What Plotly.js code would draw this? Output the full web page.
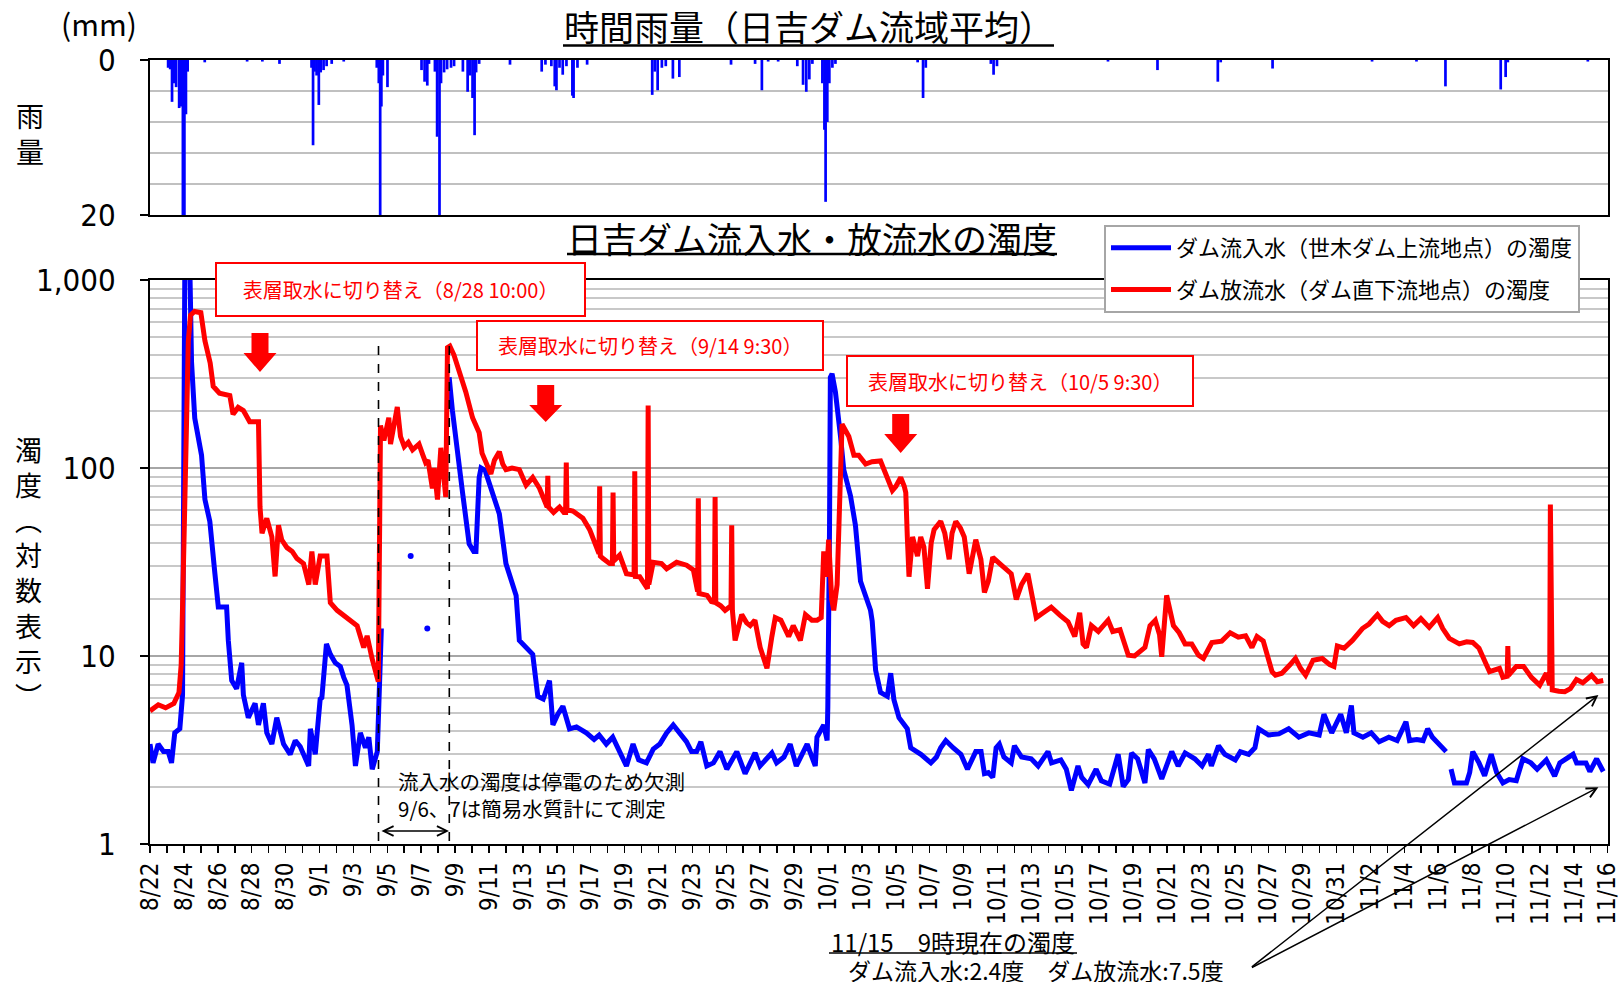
<!DOCTYPE html>
<html><head><meta charset="utf-8">
<script src="https://cdn.plot.ly/plotly-3.0.1.min.js"></script>
<style>html,body{margin:0;padding:0;background:#fff;}#chart{width:1621px;height:982px;}</style>
</head><body><div id="chart"></div>
<script>
// ---- data (days since 8/22 00:00) ----
const startYear = 2018, startMonth = 8, startDay = 22;
const endDays = 86.02;

// inflow turbidity (blue), degrees
const inflowDays = [0.00,0.18,0.48,0.80,1.07,1.27,1.46,1.76,1.92,1.99,2.06,2.33,2.45,2.64,3.04,3.24,3.53,3.83,4.03,4.52,4.62,4.82,5.11,5.41,5.51,5.80,6.20,6.40,6.69,6.89,7.19,7.48,7.88,8.27,8.57,8.86,9.36,9.46,9.75,10.04,10.14,10.41,10.64,10.93,11.23,11.43,11.62,11.92,12.12,12.41,12.71,12.91,13.11,13.41,13.60,13.65,15.00,
17.65,17.84,18.44,18.83,19.10,19.23,19.42,19.53,19.77,20.14,20.61,21.00,21.30,21.60,21.79,22.22,22.58,22.88,23.20,23.57,23.77,24.06,24.36,24.75,25.16,25.74,26.20,26.50,26.92,27.30,27.73,28.11,28.50,28.83,29.29,29.69,30.08,30.48,30.87,31.22,31.65,31.95,32.25,32.50,32.85,33.24,33.63,34.03,34.62,35.11,35.70,35.99,36.69,36.97,37.40,37.77,38.13,38.77,39.25,39.35,39.75,39.95,39.99,
40.09,40.14,40.24,40.44,40.74,40.93,41.33,41.62,41.92,42.32,42.51,42.61,42.71,42.81,43.10,43.50,43.70,43.89,44.19,44.68,44.88,45.48,46.07,46.40,46.65,46.95,47.38,47.84,48.23,48.72,49.03,49.23,49.46,49.72,49.92,50.11,50.38,50.81,51.00,51.42,51.99,52.40,52.98,53.19,53.74,54.06,54.36,54.75,54.97,55.35,55.82,56.13,56.62,56.93,57.12,57.42,57.72,57.91,58.27,58.70,58.90,59.25,59.69,
60.28,60.66,61.07,61.64,62.07,62.45,62.62,63.04,63.41,64.03,64.33,64.82,65.19,65.41,65.99,66.60,67.18,67.78,68.37,68.98,69.26,69.72,70.25,70.58,70.88,71.03,71.56,72.05,72.52,73.09,73.58,74.10,74.31,74.74,75.11,75.38,75.66,76.02,76.47,76.60,
76.76,76.96,77.67,77.86,78.04,78.41,78.74,79.13,79.45,79.82,80.19,80.61,81.00,81.47,81.84,82.38,82.87,83.18,83.96,84.17,84.72,84.95,85.35,85.74];
const inflowValues = [3.4,2.7,3.4,3.1,3.1,2.7,3.9,4.1,6.2,60,1500,1500,367,184,117,68,52,27.4,18.2,18.2,12.1,7.4,6.7,9.2,6.2,4.7,5.6,4.3,5.6,3.9,3.4,4.7,3.4,3.0,3.55,3.3,2.6,4.1,3.0,5.9,6.0,11.6,10.2,9.2,8.8,7.7,7.0,4.3,2.6,3.9,3.25,3.7,2.5,3.1,9.7,14,null,
304,203,74,39.5,36,36,89,100,97,75,57,31,25,21,12.1,11,10.2,6.1,5.9,7.4,4.3,4.9,5.4,4.1,4.2,3.9,3.6,3.8,3.4,3.7,3.1,2.6,3.4,2.8,2.7,3.2,3.4,3.9,4.3,3.9,3.5,3.1,3.1,3.5,2.6,2.7,3.1,2.5,3.1,2.37,3.05,2.6,3.05,2.7,2.9,3.4,2.6,3.4,2.6,3.7,4.3,3.55,5.35,
47,304,317,253,147,98,71,49.6,25,20,17.5,15.3,10.1,8.4,6.4,6.1,8.1,5.85,4.7,4.1,3.25,3.0,2.7,2.9,3.25,3.55,3.25,3.0,2.5,3.1,3.1,2.37,2.4,2.26,3.25,3.4,2.9,2.7,3.33,2.9,2.84,2.6,3.1,2.7,2.8,2.5,1.93,2.6,2.26,2.07,2.5,2.17,2.08,2.6,3.0,2.02,2.2,3.05,2.84,2.11,3.18,2.84,2.22,
3.1,2.6,3.05,2.84,2.6,3.0,2.6,3.33,3.0,2.8,3.1,3.0,3.25,4.1,3.8,3.85,4.1,3.7,3.9,3.8,4.9,3.9,4.9,3.9,5.45,3.9,3.7,3.9,3.5,3.7,3.55,4.47,3.55,3.6,3.55,4.1,3.7,3.4,3.1,null,
2.5,2.11,2.11,2.4,3.1,2.7,2.31,3.0,2.4,2.11,2.2,2.17,2.84,2.7,2.5,2.8,2.3,2.7,3.0,2.7,2.7,2.43,2.84,2.43];

// inflow measured with simple meter on 9/6, 9/7
const simpleMeterDays = [15.38, 16.36];
const simpleMeterValues = [34, 14];

// outflow turbidity (red), degrees
const outflowDays = [0.00,0.49,0.92,1.41,1.71,1.84,1.90,2.02,2.14,2.26,2.39,2.63,3.00,3.24,3.55,3.73,4.10,4.71,4.90,5.20,5.51,5.88,6.40,6.49,6.61,6.89,7.19,7.38,7.58,7.77,8.08,8.39,8.67,9.06,9.37,9.55,9.75,10.04,10.44,10.64,11.04,11.63,12.22,12.61,12.81,13.10,13.41,13.47,
13.60,13.80,14.09,14.19,14.59,14.78,15.00,15.24,15.49,15.87,16.10,16.26,16.40,16.66,16.77,16.96,17.16,17.35,17.45,17.55,17.69,17.93,18.24,18.63,19.03,19.42,19.59,19.82,20.11,20.32,20.61,20.81,21.00,21.36,21.79,22.19,22.58,22.98,23.37,23.43,23.47,23.51,23.81,24.16,24.42,24.52,24.56,24.60,24.95,25.54,25.94,26.24,26.49,26.53,26.57,26.73,27.12,27.28,27.32,27.36,27.71,28.11,28.56,28.60,28.64,28.89,29.29,29.35,29.39,29.43,29.69,
30.18,30.48,31.07,31.66,32.06,32.31,32.35,32.39,32.87,33.12,33.30,33.34,33.38,33.67,33.93,34.28,34.32,34.36,34.52,34.91,35.20,35.41,35.69,36.00,36.40,36.69,36.89,37.22,37.68,37.95,38.37,38.67,39.05,39.36,39.60,39.75,39.91,40.04,40.22,40.34,40.54,40.83,41.23,41.53,41.81,42.22,42.60,43.10,43.46,43.80,44.01,44.29,44.50,44.59,44.68,44.78,44.99,45.28,45.47,45.66,45.87,46.09,46.26,46.65,46.89,47.15,47.32,47.54,47.81,48.04,48.33,48.72,49.02,49.23,49.46,49.72,
50.13,50.50,50.81,51.11,51.42,51.79,52.29,52.70,53.17,53.68,54.16,54.56,54.85,55.05,55.25,55.54,55.95,56.53,56.80,57.23,57.72,58.09,58.70,59.00,59.31,59.56,59.69,59.98,60.38,60.72,61.07,61.46,61.86,62.15,62.65,63.23,63.73,64.21,64.64,65.01,65.31,65.68,66.20,66.40,66.78,67.27,67.58,67.88,68.18,68.62,69.16,69.60,69.85,
70.05,70.45,70.94,71.53,71.92,72.42,72.72,73.11,73.51,74.10,74.55,74.98,75.47,75.97,76.27,76.66,77.25,77.68,78.04,78.41,79.03,79.62,79.82,80.07,80.11,80.15,80.61,81.04,81.50,81.99,82.38,82.54,82.58,82.62,82.66,82.73,83.12,83.47,83.80,84.16,84.53,85.05,85.39,85.74];
const outflowValues = [5.1,5.5,5.3,5.6,6.4,9,15,42,200,473,650,680,670,475,362,272,250,243,193,210,202,176,176,62,45,54,43,26.5,49.6,41.5,37.7,36,33,31,24,36,24,34,34,19.2,17.5,16,14.5,11.1,12.8,9.7,7.7,7.3,
168,140,185,134,211,147,130,137,125,134,117,107,110,78,100,68,128,89,70,437,445,400,333,254,185,154,120,107,93,110,122,105,98,100,98,81,89,78,62,62,91,62,58,62,58,58,107,60,59,54,47,39.5,35,80,34,33,31,31,74,32,34.4,27.4,27,96,26.5,26.4,22.8,22.8,215,24,31.5,
31,29.1,31.5,30.4,28.7,22,69,21.5,21,19.5,19.3,70,19.2,18.5,17.5,18.5,49.6,17.5,12.1,16.6,15,14.5,15.5,11.1,8.6,12.7,16,15.5,12.7,14.5,12.1,16.6,15.5,15.5,16,36,26.4,41.6,20,17.5,24,171,147,117,117,105,108,109,90,76,80,89,80,74,43,26.4,43,34,43,38,22.8,40,47,52,45,32.7,45,52,48,43,27.4,41.6,32.7,21.8,25,33.5,
31,29,27.4,20,24,27.4,16,17,18.2,16.5,15.2,12.7,17,11.6,11.1,14.5,13.5,15.5,13.5,13.8,10.1,10,11.1,14.5,15.5,13,9.9,21,14.5,13.3,11.6,11.6,10.1,9.7,11.8,12,13.3,12.6,12.8,11.1,12.7,12,8.25,7.9,8.1,9.0,9.7,8.6,7.9,9.5,9.7,9.0,8.8,
11.3,11,12.1,14,14.8,16.6,15.3,14.5,15.5,16,14.5,15.8,14.2,16,14,12.4,11.6,11.9,11.8,11,8.25,8.6,7.7,7.8,11.3,7.9,8.8,8.8,7.7,7.0,8.1,7.2,7.0,64,6.6,6.6,6.5,6.45,6.7,7.5,7.2,7.9,7.3,7.4];

// hourly basin rainfall, mm
const rainDays = [1.07,1.19,1.30,1.42,1.54,1.72,1.84,1.94,2.03,2.12,2.22,3.23,5.73,6.63,7.64,9.53,9.62,9.71,9.83,9.96,10.07,10.24,10.42,10.72,11.43,13.38,13.50,13.58,13.65,13.74,14.01,16.02,16.20,16.36,16.46,16.81,16.94,17.08,17.17,17.35,17.53,17.76,17.94,18.46,18.74,18.89,19.03,19.15,19.24,19.42,21.24,23.11,23.33,23.68,23.88,23.98,24.16,24.35,24.57,24.92,24.99,25.22,25.79,29.63,29.78,29.95,30.20,30.43,30.85,31.23,34.28,35.70,36.10,36.47,37.06,38.19,38.53,38.72,38.90,39.08,39.67,39.79,39.86,39.96,40.08,40.26,40.44,45.29,45.61,45.77,49.61,49.77,49.97,56.52,59.44,63.00,63.17,66.23,72.10,74.72,76.43,79.69,79.98,80.11,84.83];
const rainMm = [1.0,1.2,5.4,3.0,3.5,6.2,6.0,25,22,7.0,1.5,0.3,0.2,0.2,0.5,1.0,11.0,1.5,2.0,5.8,1.6,1.3,0.8,0.5,0.2,1.0,3.0,25,6.0,2.0,3.5,1.3,2.8,3.3,0.5,1.5,9.9,25,3.0,1.6,1.2,1.0,0.8,1.5,4.1,2.0,4.9,9.7,1.6,0.5,0.6,1.5,0.6,0.8,3.4,3.9,1.0,1.9,0.8,4.6,4.9,1.0,0.6,4.5,1.5,3.9,1.0,0.8,2.4,2.2,0.6,0.5,3.9,0.2,0.2,0.8,3.2,4.1,2.5,0.5,3.0,9.0,18.3,8.0,3.0,1.0,0.5,0.3,4.9,1.0,0.5,1.9,0.8,0.2,1.3,2.8,0.3,1.1,0.2,0.2,3.4,3.8,2.2,0.3,0.2];

const turbTickVals = [1, 10, 100, 1000];
const turbTickText = ['1', '10', '100', '1,000'];
const rainTickVals = [0, 20];
const rainTickText = ['0', '20'];

// ---- helpers ----
const t0 = Date.UTC(startYear, startMonth - 1, startDay);
const toDate = d => new Date(t0 + d * 86400000).toISOString().slice(0, 19).replace('T', ' ');
const W = 1621, H = 982;
const PX = x => x / W;
const PY = y => 1 - y / H;
const JP = '"Noto Sans CJK JP", "Noto Sans", sans-serif';
const NUM = '"Liberation Sans Narrow", "DejaVu Sans Condensed", "Liberation Sans", sans-serif';

const minorLog = [];
[1, 10, 100].forEach(dec => { for (let k = 2; k <= 9; k++) minorLog.push(k * dec); });

const traces = [
  { type: 'bar', x: rainDays.map(toDate), y: rainMm, xaxis: 'x2', yaxis: 'y2',
    width: 0.16 * 86400000, marker: { color: '#0000FF', line: { width: 0 } }, showlegend: false, hoverinfo: 'skip' },
  { type: 'scatter', mode: 'lines', name: 'ダム流入水（世木ダム上流地点）の濁度', legendgroup: 'a',
    x: inflowDays.map(toDate), y: inflowValues, connectgaps: false,
    line: { color: '#0000FF', width: 5 } },
  { type: 'scatter', mode: 'markers', x: simpleMeterDays.map(toDate), y: simpleMeterValues,
    marker: { color: '#0000FF', size: 6 }, showlegend: false },
  { type: 'scatter', mode: 'lines', name: 'ダム放流水（ダム直下流地点）の濁度', legendgroup: 'b',
    x: outflowDays.map(toDate), y: outflowValues,
    line: { color: '#FF0000', width: 5 } }
];

const xDomain = [PX(150), PX(1608)];
const axLine = { showline: true, linecolor: '#000', linewidth: 2, mirror: true, zeroline: false };

function arrowPath(cx, top, bot) {
  const sw = 8.5, hw = 16.5, sh = 20;
  const pts = [[cx - sw, top], [cx + sw, top], [cx + sw, top + sh], [cx + hw, top + sh], [cx, bot], [cx - hw, top + sh], [cx - sw, top + sh]];
  return 'M' + pts.map(p => PX(p[0]).toFixed(5) + ',' + PY(p[1]).toFixed(5)).join('L') + 'Z';
}
const hline = (x0, x1, y, w) => ({ type: 'line', xref: 'paper', yref: 'paper', x0: PX(x0), x1: PX(x1), y0: PY(y), y1: PY(y), line: { color: '#000', width: w } });
const vdash = (x, y0, y1) => ({ type: 'line', xref: 'paper', yref: 'paper', x0: PX(x), x1: PX(x), y0: PY(y0), y1: PY(y1), line: { color: '#000', width: 1.6, dash: 'dash' } });

const shapes = [
  hline(563, 1054, 45.5, 2.5),
  hline(567, 1057, 254, 2.5),
  hline(829, 1077, 953, 1.5),
  vdash(378.5, 346, 844),
  vdash(449.3, 346, 844),
  { type: 'path', xref: 'paper', yref: 'paper', path: arrowPath(260, 333, 372), fillcolor: '#FF0000', line: { width: 0 } },
  { type: 'path', xref: 'paper', yref: 'paper', path: arrowPath(545.7, 385, 422), fillcolor: '#FF0000', line: { width: 0 } },
  { type: 'path', xref: 'paper', yref: 'paper', path: arrowPath(900.7, 414, 453), fillcolor: '#FF0000', line: { width: 0 } }
];

const txt = (text, x, y, size, extra) => Object.assign({ text, xref: 'paper', yref: 'paper', x: PX(x), y: PY(y), xanchor: 'center', yanchor: 'middle', showarrow: false, font: { family: JP, size, color: '#000' } }, extra || {});
const redBox = (text, x0, x1, y0, y1) => txt(text, (x0 + x1) / 2, (y0 + y1) / 2, 20, {
  font: { family: JP, size: 20, color: '#FF0000' }, bgcolor: '#FFFFFF', bordercolor: '#FF0000', borderwidth: 2, borderpad: 0,
  width: x1 - x0 - 2, height: y1 - y0 - 2, align: 'center', valign: 'middle' });
const arrowAnn = (x, y, ax, ay, both) => ({ text: '', xref: 'paper', yref: 'paper', x: PX(x), y: PY(y), ax, ay, axref: 'pixel', ayref: 'pixel',
  showarrow: true, arrowhead: 5, startarrowhead: 5, arrowside: both ? 'end+start' : 'end', arrowsize: 1.3, startarrowsize: 1.3, arrowwidth: 1.5, arrowcolor: '#000', standoff: 0, startstandoff: 0 });

const annotations = [
  txt('時間雨量（日吉ダム流域平均）', 808.5, 26, 35),
  txt('日吉ダム流入水・放流水の濁度', 812, 237, 35),
  txt('(mm)', 99, 23, 30),
  txt('雨<br>量', 30, 133.5, 28),
  txt('濁<br>度<br>︵<br>対<br>数<br>表<br>示<br>︶', 28, 572, 27),
  redBox('表層取水に切り替え（8/28 10:00）', 215.6, 584.8, 262.7, 316),
  redBox('表層取水に切り替え（9/14 9:30）', 476.7, 823, 321, 370),
  redBox('表層取水に切り替え（10/5 9:30）', 846.7, 1193, 355.8, 406),
  txt('流入水の濁度は停電のため欠測<br>9/6、7は簡易水質計にて測定', 396, 794, 20.5, { xanchor: 'left', align: 'left' }),
  txt('11/15　9時現在の濁度', 953, 941, 24),
  txt('ダム流入水:2.4度　ダム放流水:7.5度', 1035.6, 970, 23),
  arrowAnn(449, 831, -69, 0, true),
  arrowAnn(1598.4, 695, -348, 273, false),
  arrowAnn(1598.4, 787.3, -348, 181, false)
];

const layout = {
  width: W, height: H, margin: { l: 0, r: 0, t: 0, b: 0 },
  paper_bgcolor: '#fff', plot_bgcolor: '#fff', showlegend: true,
  xaxis: Object.assign({}, axLine, {
    domain: xDomain, anchor: 'y', type: 'date', range: [toDate(0), toDate(endDays)],
    tickmode: 'linear', tick0: toDate(0), dtick: 2 * 86400000, tickformat: '%-m/%-d', tickangle: -90,
    ticks: 'outside', ticklen: 7, tickwidth: 1.5, tickcolor: '#000', showgrid: false, ticklabeloverflow: 'allow',
    tickfont: { family: NUM, size: 24, color: '#000' },
    minor: { tick0: toDate(0), dtick: 86400000, ticks: 'outside', ticklen: 7, tickwidth: 1.5, tickcolor: '#000', showgrid: false }
  }),
  yaxis: Object.assign({}, axLine, {
    domain: [PY(844), PY(280)], anchor: 'x', type: 'log', range: [0, 3],
    tickmode: 'array', tickvals: turbTickVals, ticktext: turbTickText,
    ticks: 'outside', ticklen: 8, tickwidth: 1.5, tickcolor: '#000', ticklabelstandoff: 18,
    tickfont: { family: NUM, size: 31, color: '#000' },
    showgrid: true, gridcolor: '#a6a6a6', gridwidth: 2,
    minor: { tickmode: 'array', tickvals: minorLog, showgrid: true, gridcolor: '#c8c8c8', gridwidth: 2, ticks: '' }
  }),
  xaxis2: Object.assign({}, axLine, {
    domain: xDomain, anchor: 'y2', matches: 'x', type: 'date', showticklabels: false, ticks: '', showgrid: false
  }),
  yaxis2: Object.assign({}, axLine, {
    domain: [PY(215), PY(60)], anchor: 'x2', range: [20, 0],
    tickmode: 'array', tickvals: rainTickVals, ticktext: rainTickText,
    ticks: 'outside', ticklen: 8, tickwidth: 1.5, tickcolor: '#000', ticklabelstandoff: 18,
    tickfont: { family: NUM, size: 31, color: '#000' }, showgrid: false,
    minor: { tickmode: 'array', tickvals: [4, 8, 12, 16], showgrid: true, gridcolor: '#c0c0c0', gridwidth: 2, ticks: '' }
  }),
  legend: { x: PX(1104), y: PY(225), xanchor: 'left', yanchor: 'top', bgcolor: '#fff', bordercolor: '#a6a6a6', borderwidth: 2,
    font: { family: JP, size: 22, color: '#000' }, traceorder: 'grouped', tracegroupgap: 10, itemwidth: 60 },
  shapes, annotations
};

Plotly.newPlot('chart', traces, layout, { displayModeBar: false, staticPlot: true });
</script></body></html>
